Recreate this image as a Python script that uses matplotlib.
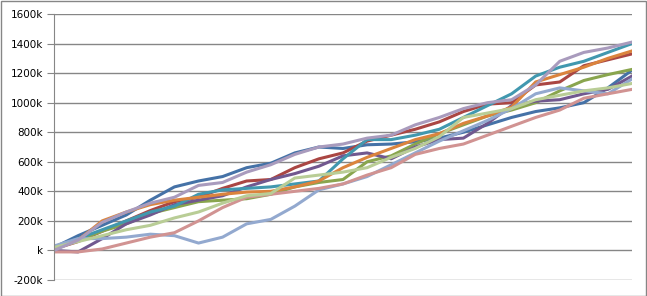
import numpy as np
import matplotlib
matplotlib.use("Agg")
import matplotlib.pyplot as plt
from matplotlib.patches import Rectangle
from matplotlib.ticker import FuncFormatter

# values in k at 25 evenly spaced steps
steps = list(range(25))

dark_blue = [20, 100, 170, 240, 340, 430, 470, 500, 560, 590, 660, 700, 690, 715, 720, 735,
             760, 800, 850, 900, 940, 965, 1000, 1100, 1220]
red = [10, 60, 130, 200, 270, 330, 360, 420, 470, 480, 560, 620, 660, 740, 780, 820,
       870, 940, 990, 1000, 1120, 1140, 1250, 1290, 1330]
green = [20, 70, 130, 180, 250, 290, 330, 340, 350, 380, 430, 460, 480, 600, 640, 720,
         790, 850, 910, 950, 1000, 1080, 1150, 1190, 1225]
purple = [0, -10, 80, 180, 240, 310, 340, 370, 430, 480, 520, 570, 640, 660, 620, 700,
          750, 760, 860, 980, 1010, 1020, 1060, 1090, 1180]
teal = [20, 80, 140, 200, 260, 300, 380, 410, 420, 430, 450, 470, 620, 750, 750, 780,
        820, 900, 980, 1060, 1180, 1240, 1280, 1340, 1400]
orange = [20, 70, 200, 260, 310, 340, 360, 380, 395, 400, 430, 470, 560, 630, 690, 750,
          790, 860, 910, 970, 1140, 1190, 1240, 1300, 1350]
light_blue = [30, 80, 80, 90, 110, 100, 50, 90, 180, 210, 300, 410, 450, 500, 580, 660,
              740, 810, 880, 960, 1060, 1100, 1080, 1060, 1160]
pink = [-10, -10, 10, 50, 90, 120, 200, 290, 360, 380, 400, 420, 450, 510, 560, 650,
        690, 720, 780, 840, 900, 950, 1030, 1060, 1090]
light_green = [20, 60, 100, 140, 170, 220, 260, 320, 370, 385, 490, 510, 530, 560, 630, 690,
               770, 900, 930, 960, 1020, 1050, 1080, 1100, 1130]
light_purple = [0, 70, 190, 260, 320, 360, 440, 460, 530, 580, 650, 700, 720, 760, 780, 850,
                900, 960, 1000, 1020, 1120, 1280, 1340, 1370, 1410]

series = [dark_blue, red, green, purple, teal, orange, light_blue, pink, light_green, light_purple]
colors = ["#4572A7", "#AA4643", "#89A54E", "#71588F", "#4198AF",
          "#DB843D", "#93A9CF", "#D19392", "#B9CD96", "#A99BBD"]

fig = plt.figure(figsize=(6.47, 2.96), dpi=100)
ax = fig.add_axes([54 / 647, 16 / 296, 578 / 647, 266 / 296])

for vals, c in zip(series, colors):
    ax.plot(steps, np.array(vals) * 1000, color=c, lw=2.2, solid_joinstyle="round")

ax.set_xlim(0, 24)
ax.set_ylim(-200000, 1600000)
ax.set_yticks(np.arange(-200000, 1600001, 200000))
ax.yaxis.set_major_formatter(FuncFormatter(lambda v, p: "k" if v == 0 else "%dk" % round(v / 1000)))
ax.set_xticks([])
ax.grid(axis="y", color="#868686", lw=1)
ax.set_axisbelow(True)
for s in ["top", "right", "bottom"]:
    ax.spines[s].set_visible(False)
ax.spines["left"].set_color("#868686")
ax.tick_params(axis="y", length=5, color="#868686", labelsize=7.5, labelcolor="#000000", pad=3)

fig.patches.append(Rectangle((0.5 / 647, 0.5 / 296), 645.5 / 647, 294.5 / 296, transform=fig.transFigure,
                             fill=False, edgecolor="#868686", lw=1))

fig.savefig("out.png", dpi=100)
